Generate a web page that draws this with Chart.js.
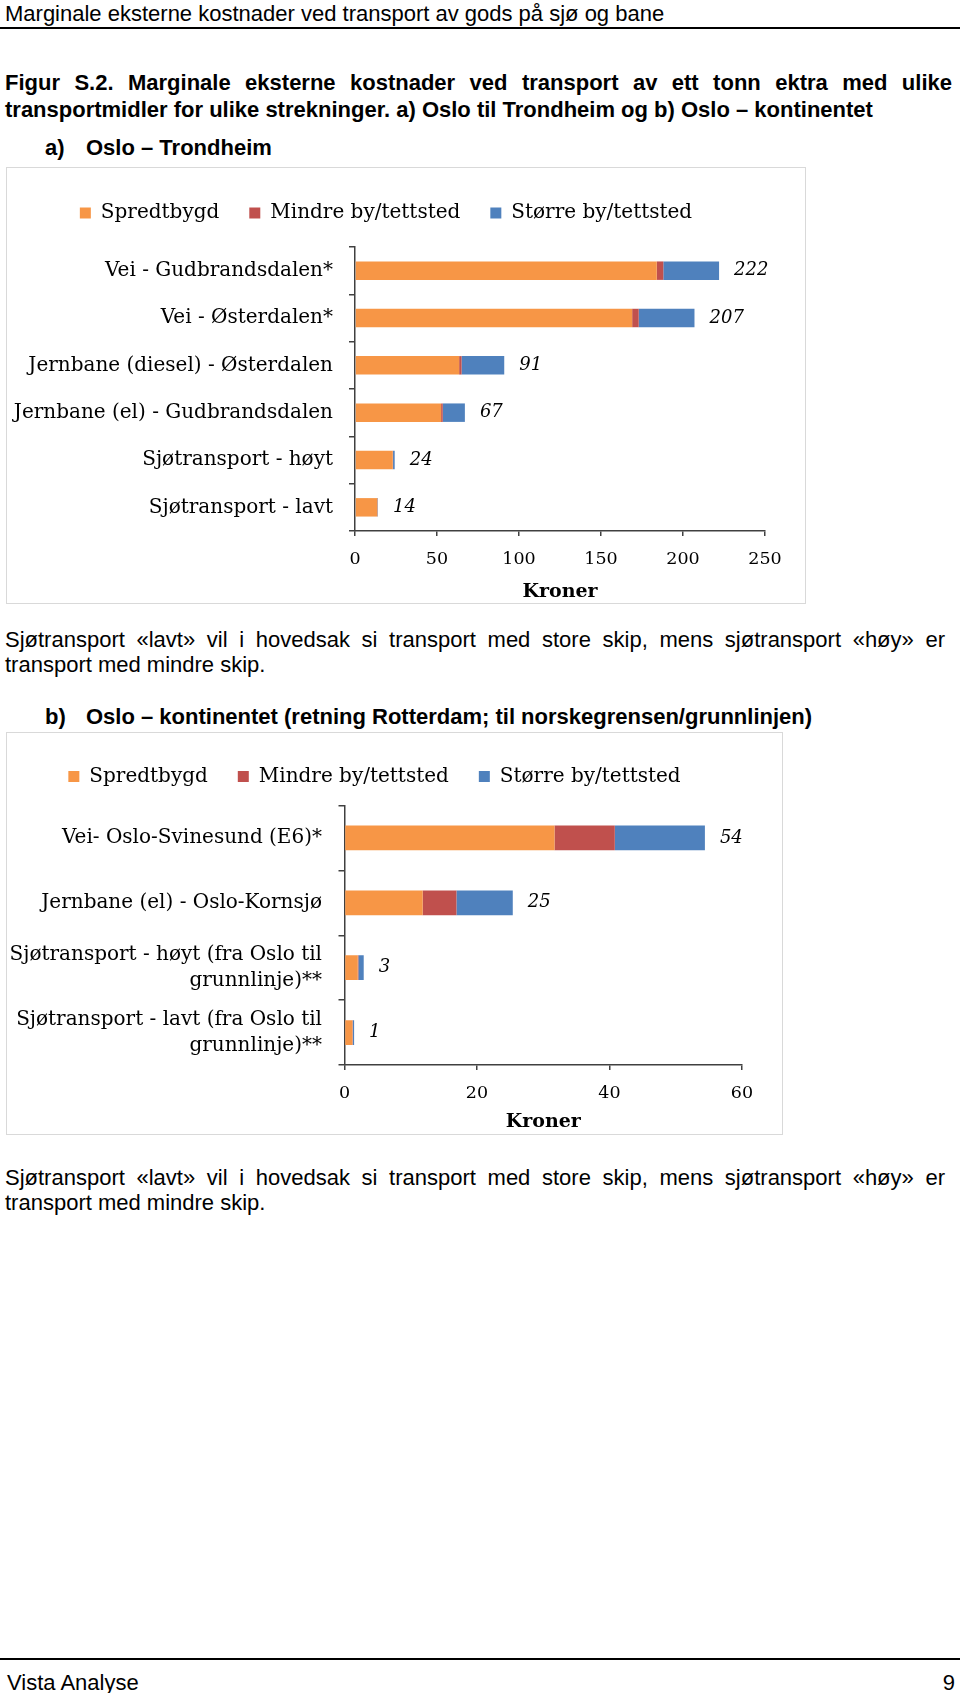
<!DOCTYPE html>
<html>
<head>
<meta charset="utf-8">
<script src="https://cdn.jsdelivr.net/npm/chart.js@4.4.0/dist/chart.umd.min.js"></script>
<style>
  html, body { margin: 0; padding: 0; background: #fff; }
  body { width: 960px; height: 1693px; position: relative; overflow: hidden;
         font-family: "Liberation Sans", Arial, sans-serif; color: #000; }
  .t { position: absolute; white-space: nowrap; font-size: 22px; line-height: 25px; }
  .j { white-space: normal; text-align: justify; text-align-last: justify; }
  .b { font-weight: bold; }
  .rule { position: absolute; left: 0; width: 960px; height: 2px; background: #000; }
  .box { position: absolute; box-sizing: border-box; border: 1px solid #d9d9d9; }
  .box canvas { position: absolute; left: 0; top: 0; }
</style>
</head>
<body>
<div class="t" style="left:5px;top:0.5px;">Marginale eksterne kostnader ved transport av gods på sjø og bane</div>
<div class="rule" style="top:27px;"></div>

<div class="t b j" style="left:5px;top:69.5px;width:947px;">Figur S.2. Marginale eksterne kostnader ved transport av ett tonn ektra med ulike</div>
<div class="t b" style="left:5px;top:96.5px;">transportmidler for ulike strekninger. a) Oslo til Trondheim og b) Oslo – kontinentet</div>

<div class="t b" style="left:45px;top:134.5px;">a)</div>
<div class="t b" style="left:86px;top:134.5px;">Oslo – Trondheim</div>
<div class="box" style="left:6px;top:167px;width:800px;height:437px;"><canvas id="chartA" width="798" height="435"></canvas></div>

<div class="t j" style="left:5px;top:626.5px;width:940px;">Sjøtransport «lavt» vil i hovedsak si transport med store skip, mens sjøtransport «høy» er</div>
<div class="t" style="left:5px;top:651.5px;">transport med mindre skip.</div>

<div class="t b" style="left:45px;top:703.5px;">b)</div>
<div class="t b" style="left:86px;top:703.5px;">Oslo – kontinentet (retning Rotterdam; til norskegrensen/grunnlinjen)</div>
<div class="box" style="left:6px;top:732px;width:777px;height:403px;"><canvas id="chartB" width="775" height="401"></canvas></div>

<div class="t j" style="left:5px;top:1164.5px;width:940px;">Sjøtransport «lavt» vil i hovedsak si transport med store skip, mens sjøtransport «høy» er</div>
<div class="t" style="left:5px;top:1189.5px;">transport med mindre skip.</div>

<div class="rule" style="top:1658px;"></div>
<div class="t" style="left:7px;top:1669.5px;">Vista Analyse</div>
<div class="t" style="right:5px;top:1669.5px;">9</div>

<script>
// a) Oslo - Trondheim
const categoriesA = ['Vei - Gudbrandsdalen*', 'Vei - Østerdalen*', 'Jernbane (diesel) - Østerdalen',
                     'Jernbane (el) - Gudbrandsdalen', 'Sjøtransport - høyt', 'Sjøtransport - lavt'];
const spredtbygdA = [184, 169, 63.5, 52.5, 23, 13.6];
const mindreA = [4, 4, 1.5, 1, 0.2, 0.1];
const storreA = [34, 34, 26, 13.5, 1.0, 0.3];
const ticksA = [0, 50, 100, 150, 200, 250];

// b) Oslo - kontinentet
const categoriesB = ['Vei- Oslo-Svinesund (E6)*', 'Jernbane (el) - Oslo-Kornsjø',
                     ['Sjøtransport - høyt (fra Oslo til', 'grunnlinje)**'],
                     ['Sjøtransport - lavt (fra Oslo til', 'grunnlinje)**']];
const spredtbygdB = [31.7, 11.8, 2.0, 1.2];
const mindreB = [9.1, 5.1, 0.1, 0.05];
const storreB = [13.6, 8.5, 0.8, 0.2];
const ticksB = [0, 20, 40, 60];

const seriesNames = ['Spredtbygd', 'Mindre by/tettsted', 'Større by/tettsted'];
const seriesColors = ['#F79646', '#C0504D', '#4F81BD'];
const axisColor = '#404040';

Chart.defaults.font.family = '"DejaVu Serif", serif';
Chart.defaults.color = '#000';

// sum of the stack, written after the bar in italics
const totalLabels = {
    id: 'totalLabels',
    afterDatasetsDraw(chart, args, opts) {
        const ctx = chart.ctx;
        const x = chart.scales.x;
        const last = chart.getDatasetMeta(chart.data.datasets.length - 1);
        ctx.save();
        ctx.font = 'italic 18px "DejaVu Serif"';
        ctx.fillStyle = '#000';
        ctx.textBaseline = 'middle';
        chart.data.labels.forEach(function(_, i) {
            const total = chart.data.datasets.reduce((s, d) => s + d.data[i], 0);
            ctx.fillText(String(Math.round(total)), x.getPixelForValue(total) + opts.gap, last.data[i].y);
        });
        ctx.restore();
    }
};

// extra room between legend and plot
const legendGap = {
    id: 'legendGap',
    beforeInit(chart, args, opts) {
        if (!chart.legend) return;
        const fit = chart.legend.fit;
        chart.legend.fit = function() { fit.call(this); this.height += opts.extra; };
    }
};

function makeChart(id, labels, a, b, c, ticks, lay) {
    const ctx = document.getElementById(id).getContext('2d');
    const values = [a, b, c];
    return new Chart(ctx, {
        type: 'bar',
        data: {
            labels: labels,
            datasets: seriesNames.map((name, k) => ({
                label: name,
                data: values[k],
                backgroundColor: seriesColors[k],
                borderWidth: 0,
                categoryPercentage: 1,
                barPercentage: lay.barPct
            }))
        },
        options: {
            indexAxis: 'y',
            responsive: false,
            animation: false,
            layout: { padding: { left: lay.padLeft, right: 40, top: lay.padTop, bottom: 0 } },
            scales: {
                x: {
                    stacked: true,
                    min: ticks[0],
                    max: ticks[ticks.length - 1],
                    afterFit: function(scale) { scale.height = lay.xHeight; },
                    grid: { drawOnChartArea: false, tickLength: 5, color: axisColor, lineWidth: 1.5 },
                    border: { color: axisColor, width: 1.5 },
                    ticks: { stepSize: ticks[1] - ticks[0], padding: lay.tickPad, color: '#000', font: { size: 17.5 } },
                    title: { display: true, text: 'Kroner', color: '#000',
                             font: { size: 19, weight: 'bold' }, padding: { top: 0, bottom: lay.titlePad } }
                },
                y: {
                    stacked: true,
                    afterFit: function(scale) { scale.width = lay.yWidth; },
                    grid: { drawOnChartArea: false, offset: true, tickLength: 6, color: axisColor, lineWidth: 1.5 },
                    border: { color: axisColor, width: 1.5 },
                    ticks: { padding: lay.labelPad, color: '#000', font: { size: 20, lineHeight: 1.3 } }
                }
            },
            plugins: {
                legend: {
                    position: 'top',
                    labels: { boxWidth: 11, boxHeight: 11, padding: 30, color: '#000', font: { size: 20 } }
                },
                tooltip: { enabled: false },
                legendGap: { extra: lay.legendExtra },
                totalLabels: { gap: 15 }
            }
        },
        plugins: [legendGap, totalLabels]
    });
}

makeChart('chartA', categoriesA, spredtbygdA, mindreA, storreA, ticksA,
    { barPct: 0.39, padLeft: 0, padTop: 5, yWidth: 348, xHeight: 72, tickPad: 13, titlePad: 0, labelPad: 16, legendExtra: 14 });
makeChart('chartB', categoriesB, spredtbygdB, mindreB, storreB, ticksB,
    { barPct: 0.38, padLeft: 0, padTop: 3.5, yWidth: 337.5, xHeight: 69, tickPad: 13, titlePad: 1, labelPad: 16.5, legendExtra: 9 });
</script>
</body>
</html>
